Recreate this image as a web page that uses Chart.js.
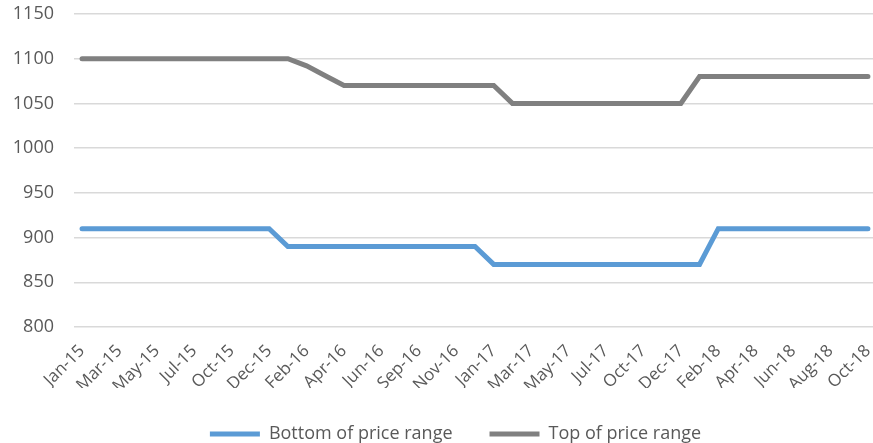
<!DOCTYPE html>
<html>
<head>
<meta charset="utf-8">
<script src="https://cdn.jsdelivr.net/npm/chart.js@4"></script>
<style>
  html, body { margin: 0; padding: 0; background: #fff; }
  #wrap { width: 873px; height: 443px; }
</style>
</head>
<body>
<div id="wrap"><canvas id="chart"></canvas></div>
<script>
// Months on the category axis (every second one is labelled)
const categories = [
    'Jan-15', 'Feb-15', 'Mar-15', 'Apr-15', 'May-15', 'Jun-15', 'Jul-15', 'Aug-15',
    'Oct-15', 'Nov-15', 'Dec-15', 'Jan-16', 'Feb-16', 'Mar-16', 'Apr-16', 'May-16',
    'Jun-16', 'Aug-16', 'Sep-16', 'Oct-16', 'Nov-16', 'Dec-16', 'Jan-17', 'Feb-17',
    'Mar-17', 'Apr-17', 'May-17', 'Jun-17', 'Jul-17', 'Sep-17', 'Oct-17', 'Nov-17',
    'Dec-17', 'Jan-18', 'Feb-18', 'Mar-18', 'Apr-18', 'May-18', 'Jun-18', 'Jul-18',
    'Aug-18', 'Sep-18', 'Oct-18'
];

const bottomOfRange = [
    910, 910, 910, 910, 910, 910, 910, 910, 910, 910, 910, 890, 890, 890, 890, 890,
    890, 890, 890, 890, 890, 890, 870, 870, 870, 870, 870, 870, 870, 870, 870, 870,
    870, 870, 910, 910, 910, 910, 910, 910, 910, 910, 910
];

const topOfRange = [
    1100, 1100, 1100, 1100, 1100, 1100, 1100, 1100, 1100, 1100, 1100, 1100, 1092, 1081, 1070, 1070,
    1070, 1070, 1070, 1070, 1070, 1070, 1070, 1050, 1050, 1050, 1050, 1050, 1050, 1050, 1050, 1050,
    1050, 1080, 1080, 1080, 1080, 1080, 1080, 1080, 1080, 1080, 1080
];

const yTicks = [800, 850, 900, 950, 1000, 1050, 1100, 1150];

const textColor = '#595959';
const gridColor = '#d9d9d9';
const fontFamily = '"Open Sans", sans-serif';

function toPoints(values) {
    return values.map((v, i) => ({ x: i, y: v }));
}

// Excel places the legend a little right of centre
const legendShift = {
    id: 'legendShift',
    afterLayout: chart => {
        if (!chart.legend) return;
        chart.legend.left += 19;
        chart.legend.right += 19;
    }
};

const ctx = document.getElementById('chart').getContext('2d');

new Chart(ctx, {
    type: 'line',
    data: {
        datasets: [
            {
                label: 'Bottom of price range',
                data: toPoints(bottomOfRange),
                borderColor: '#5b9bd5',
                backgroundColor: '#5b9bd5',
                borderWidth: 5,
                borderCapStyle: 'round',
                pointRadius: 0,
                tension: 0
            },
            {
                label: 'Top of price range',
                data: toPoints(topOfRange),
                borderColor: '#808080',
                backgroundColor: '#808080',
                borderWidth: 5,
                borderCapStyle: 'round',
                pointRadius: 0,
                tension: 0
            }
        ]
    },
    options: {
        responsive: true,
        maintainAspectRatio: false,
        animation: false,
        layout: {
            padding: { top: 14, left: 0, right: 0, bottom: -10 }
        },
        plugins: {
            title: { display: false },
            tooltip: { enabled: false },
            legend: {
                position: 'bottom',
                labels: {
                    usePointStyle: true,
                    pointStyle: 'line',
                    pointStyleWidth: 50,
                    boxHeight: 5,
                    padding: 37,
                    color: textColor,
                    font: { family: fontFamily, size: 18 }
                }
            }
        },
        scales: {
            x: {
                type: 'linear',
                min: -0.43,
                max: 42.27,
                afterBuildTicks: axis => {
                    axis.ticks = categories
                        .map((c, i) => ({ value: i }))
                        .filter(t => t.value % 2 === 0);
                },
                afterFit: axis => {
                    axis.paddingLeft = 0;
                    axis.paddingRight = 0;
                    axis.height = 61;
                },
                ticks: {
                    autoSkip: false,
                    minRotation: 45,
                    maxRotation: 45,
                    padding: 6,
                    color: textColor,
                    font: { family: fontFamily, size: 17 },
                    callback: value => categories[value]
                },
                grid: { display: false },
                border: { display: false }
            },
            y: {
                min: 800,
                max: 1150,
                afterBuildTicks: axis => {
                    axis.ticks = yTicks.map(v => ({ value: v }));
                },
                afterFit: axis => {
                    axis.paddingTop = 0;
                    axis.paddingBottom = 0;
                    axis.width = 74;
                },
                ticks: {
                    padding: 20,
                    color: textColor,
                    font: { family: fontFamily, size: 18 },
                    callback: value => String(value)
                },
                grid: {
                    color: gridColor,
                    lineWidth: 1.5,
                    drawTicks: false
                },
                border: { display: false }
            }
        }
    },
    plugins: [legendShift]
});
</script>
</body>
</html>
